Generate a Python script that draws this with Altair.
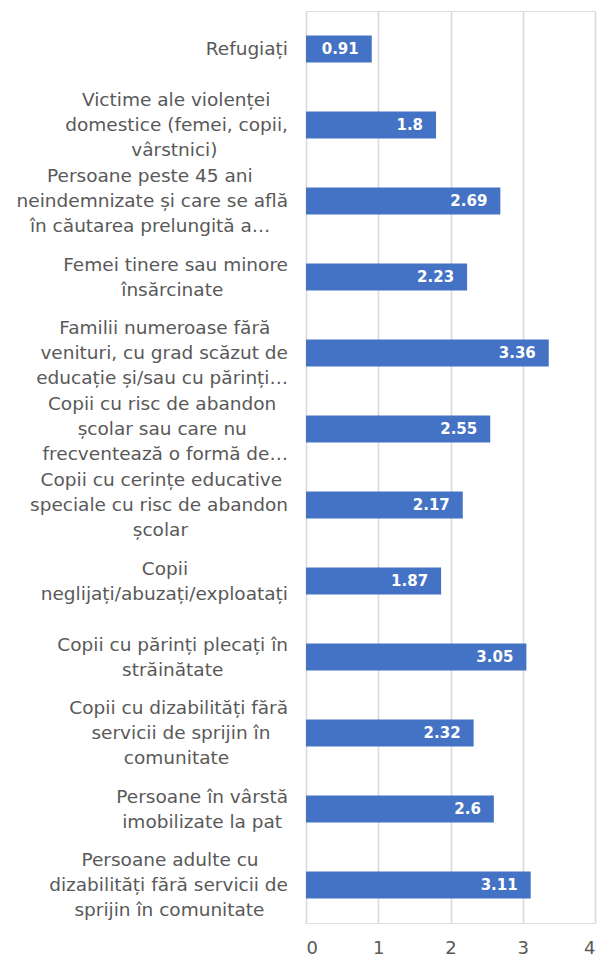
import altair as alt
import pandas as pd

# ---- data -------------------------------------------------------------
categories = [
    ["Refugiați"],
    ["Victime ale violenței", "domestice (femei, copii,", "vârstnici)"],
    ["Persoane peste 45 ani", "neindemnizate și care se află", "în căutarea prelungită a…"],
    ["Femei tinere sau minore", "însărcinate"],
    ["Familii numeroase fără", "venituri, cu grad scăzut de", "educație și/sau cu părinți…"],
    ["Copii cu risc de abandon", "școlar sau care nu", "frecventează  o formă de…"],
    ["Copii cu cerințe educative", "speciale cu risc de abandon", "școlar"],
    ["Copii", "neglijați/abuzați/exploatați"],
    ["Copii cu părinți plecați în", "străinătate"],
    ["Copii cu dizabilități fără", "servicii de sprijin în", "comunitate"],
    ["Persoane în vârstă", "imobilizate la pat"],
    ["Persoane adulte cu", "dizabilități fără servicii de", "sprijin în comunitate"],
]
values = [0.91, 1.8, 2.69, 2.23, 3.36, 2.55, 2.17, 1.87, 3.05, 2.32, 2.6, 3.11]
x_ticks = [0, 1, 2, 3, 4]

# ---- label formatting: centre the lines inside each right-aligned block --
# approximate DejaVu Sans advance widths (em) to pad short lines
_W = {
    "a": .613, "b": .635, "c": .550, "d": .635, "e": .615, "f": .352, "g": .635,
    "h": .634, "i": .278, "j": .278, "k": .579, "l": .278, "m": .974, "n": .634,
    "o": .612, "p": .635, "q": .635, "r": .411, "s": .521, "t": .392, "u": .634,
    "v": .592, "w": .818, "x": .592, "y": .592, "z": .525,
    " ": .318, ".": .318, ",": .318, "(": .390, ")": .390, "/": .337, "…": 1.0,
    "C": .698, "F": .575, "P": .603, "V": .684, "R": .695, "S": .635,
}
_BASE = {"ă": "a", "â": "a", "î": "i", "ț": "t", "ș": "s"}


def est_width(s):
    return sum(_W.get(_BASE.get(ch, ch), 0.636 if ch.isdigit() else 0.7) for ch in s)


NBSP_W = 0.318


def center_block(lines):
    widths = [est_width(l) for l in lines]
    W = max(widths)
    out = []
    for l, w in zip(lines, widths):
        n = int(round(((W - w) / 2) / NBSP_W))
        # trailing zero-width space keeps the padding from being trimmed
        out.append(l + "\u00a0" * n + ("\u200b" if n else ""))
    return "\n".join(out)


labels = [center_block(c) for c in categories]
df = pd.DataFrame({
    "cat": [str(i) for i in range(len(categories))],
    "label": labels,
    "nlines": [len(c) for c in categories],
    "value": values,
})
order = list(df["cat"])

FONT = "DejaVu Sans"
GREY = "#595959"
LINE_H = 25

y_enc = alt.Y("cat:N", sort=order, title=None, axis=None)

x_enc = alt.X(
    "value:Q",
    title=None,
    scale=alt.Scale(domain=[0, 4], nice=False),
    axis=alt.Axis(
        values=x_ticks,
        format="d",
        labelFont=FONT,
        labelFontSize=18,
        labelColor=GREY,
        labelPadding=16,
        ticks=False,
        domain=False,
        grid=True,
        gridColor="#d9d9d9",
        gridWidth=1.6,
    ),
)

base = alt.Chart(df)

bars = base.mark_bar(size=27, color="#4472C4").encode(y=y_enc, x=x_enc)

values_text = base.mark_text(
    align="right",
    baseline="middle",
    dx=-13,
    color="white",
    font=FONT,
    fontWeight="bold",
    fontSize=15,
).encode(y=alt.Y("cat:N", sort=order), x="value:Q", text=alt.Text("value:Q"))

label_layers = []
for n in (1, 2, 3):
    label_layers.append(
        base.transform_filter(alt.datum.nlines == n)
        .mark_text(
            align="right",
            baseline="middle",
            lineBreak="\n",
            lineHeight=LINE_H,
            dy=-(n - 1) * LINE_H / 2,
            font=FONT,
            fontSize=18.5,
            color=GREY,
        )
        .encode(y=alt.Y("cat:N", sort=order), x=alt.value(-18), text="label:N")
    )

chart = (
    alt.layer(bars, values_text, *label_layers)
    .properties(
        width=289,
        height=912,
        autosize=alt.AutoSizeParams(type="none"),
        padding={"left": 298, "top": 3, "right": 5, "bottom": 35},
    )
    .configure_view(stroke=None)
    .configure(background="white")
)

chart.save("out.html", embed_options={"renderer": "svg", "actions": False})
